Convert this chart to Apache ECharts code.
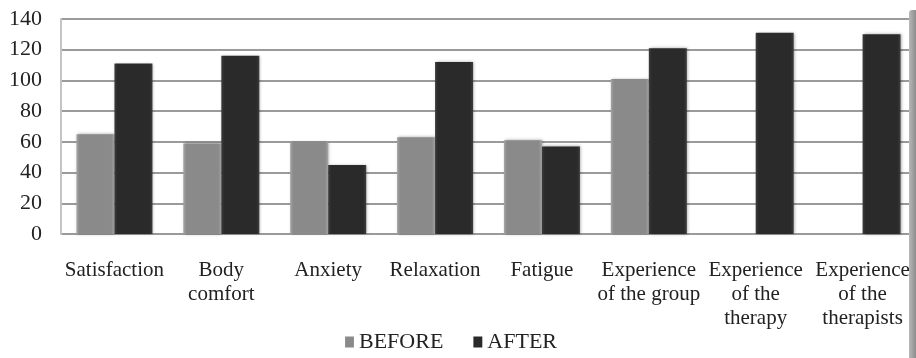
<!DOCTYPE html>
<html>
<head>
<meta charset="utf-8">
<script src="https://cdn.jsdelivr.net/npm/echarts@6/dist/echarts.min.js"></script>
<style>
  html, body { margin: 0; padding: 0; background: #fff; }
  #chart { width: 916px; height: 358px; }
</style>
</head>
<body>
<div id="chart"></div>
<script>
// Scores per dimension, before and after the sessions
const categories = [
  'Satisfaction',
  'Body\ncomfort',
  'Anxiety',
  'Relaxation',
  'Fatigue',
  'Experience\nof the group',
  'Experience\nof the\ntherapy',
  'Experience\nof the\ntherapists'
];
const seriesNames = ['BEFORE', 'AFTER'];
const beforeValues = [65, 59, 60, 63, 61, 101, null, null];
const afterValues = [111, 116, 45, 112, 57, 121, 131, 130];
const yTicks = { min: 0, max: 140, interval: 20 };

const serif = '"Liberation Serif", "Times New Roman", serif';
const chart = echarts.init(document.getElementById('chart'), null, { renderer: 'canvas' });

function barStyle(base, edge) {
  return {
    color: new echarts.graphic.LinearGradient(0, 0, 1, 0, [
      { offset: 0, color: edge },
      { offset: 0.08, color: base },
      { offset: 0.92, color: base },
      { offset: 1, color: edge }
    ]),
    shadowColor: 'rgba(0,0,0,0.35)',
    shadowBlur: 3,
    shadowOffsetX: 1,
    shadowOffsetY: 0
  };
}

chart.setOption({
  animation: false,
  backgroundColor: '#fff',
  textStyle: { fontFamily: serif },
  grid: { left: 61, top: 19, width: 860, height: 215, containLabel: false },
  legend: {
    data: seriesNames,
    top: 326,
    left: 340,
    itemWidth: 9,
    itemHeight: 11,
    itemGap: 30,
    icon: 'rect',
    textStyle: { fontFamily: serif, fontSize: 22, color: '#222', padding: [0, 0, 0, 0] }
  },
  xAxis: {
    type: 'category',
    data: categories,
    axisLine: { show: false },
    axisTick: { show: false },
    axisLabel: {
      interval: 0,
      margin: 24,
      fontFamily: serif,
      fontSize: 21,
      lineHeight: 24,
      color: '#222'
    }
  },
  yAxis: {
    type: 'value',
    min: yTicks.min,
    max: yTicks.max,
    interval: yTicks.interval,
    axisLine: { show: true, lineStyle: { color: '#c4c4c4', width: 2 } },
    axisTick: { show: false },
    axisLabel: {
      margin: 19,
      fontFamily: serif,
      fontSize: 22,
      color: '#222'
    },
    splitLine: { lineStyle: { color: '#9a9a9a', width: 2 } }
  },
  series: [
    {
      name: seriesNames[0],
      type: 'bar',
      data: beforeValues,
      barWidth: 38,
      barGap: '0%',
      itemStyle: barStyle('#8a8a8a', '#a6a6a6')
    },
    {
      name: seriesNames[1],
      type: 'bar',
      data: afterValues,
      barWidth: 38,
      barGap: '0%',
      itemStyle: barStyle('#2a2a2a', '#3c3c3c')
    }
  ],
  graphic: [
    {
      type: 'rect',
      shape: { x: 909, y: 10, width: 7, height: 348, r: [3, 0, 0, 0] },
      style: {
        fill: new echarts.graphic.LinearGradient(0, 0, 1, 0, [
          { offset: 0, color: '#b8b8b8' },
          { offset: 1, color: '#8c8c8c' }
        ])
      },
      z: 100
    }
  ]
});
</script>
</body>
</html>
